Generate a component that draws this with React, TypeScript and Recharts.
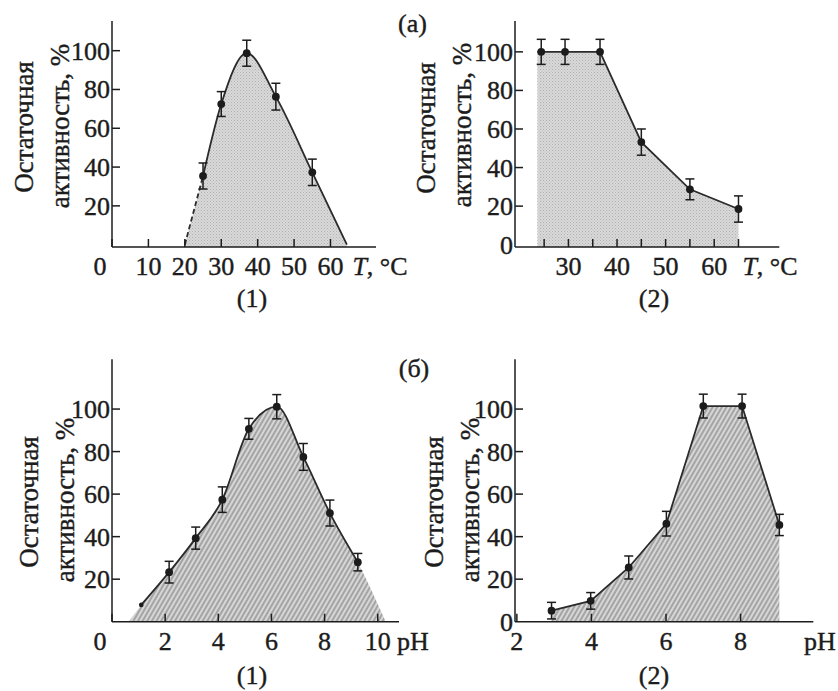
import React from 'react';
import { ComposedChart, Area, Line, Scatter, ErrorBar, XAxis, YAxis } from 'recharts';

const FONT = '"Liberation Serif", "Times New Roman", Tinos, "DejaVu Serif", serif';
const INK = '#1c1c1c';
const LINE = '#2b2b2b';
const TICK_FS = 26;
const TITLE_FS = 27;

// (а)(1) activity vs temperature
const tempA1 = [25, 30, 37, 45, 55];
const actA1 = [35.4, 72.5, 98.7, 76.3, 37.3];
const errA1 = [6.7, 6.4, 6.7, 6.9, 6.8];
const edgeA1 = [20, 64.5]; // where the curve meets the T axis

// (а)(2) residual activity after heating
const tempA2 = [24.4, 29.3, 36.5, 45, 55, 65];
const actA2 = [100, 100, 100, 53.2, 28.7, 18.5];
const errA2 = [6.5, 6.5, 6.5, 6.8, 5.4, 6.8];
const fillStartA2 = 23.6;

// (б)(1) activity vs pH
const phB1 = [2.15, 3.15, 4.15, 5.15, 6.2, 7.2, 8.2, 9.25];
const actB1 = [23.3, 39.3, 57.4, 90.7, 101.1, 77.5, 51.1, 28.0];
const errB1 = [5.1, 5.2, 6.0, 4.9, 5.7, 6.3, 6.1, 4.1];
const startB1 = [1.1, 7.9];
const edgeB1 = [0.63, 10.3];

// (б)(2) residual activity vs pH
const phB2 = [2.93, 3.98, 5.0, 6.01, 7.0, 8.04, 9.04];
const actB2 = [5.2, 9.8, 25.5, 46.1, 101.4, 101.4, 45.5];
const errB2 = [3.9, 3.9, 5.4, 5.8, 5.6, 5.6, 5.0];

const ticksT1 = [0, 10, 20, 30, 40, 50, 60];
const ticksT2 = [25, 30, 35, 40, 45, 50, 55, 60, 65];
const labelsT2 = [30, 40, 50, 60];
const ticksPh1 = [0, 2, 4, 6, 8, 10];
const ticksPh2 = [2, 4, 6, 8];
const ticksAct = [20, 40, 60, 80, 100];
const ticksAct0 = [0, 20, 40, 60, 80, 100];

type Pt = { x: number; y: number; e: number };
const zip = (xs: number[], ys: number[], es?: number[]): Pt[] =>
  xs.map((x, i) => ({ x, y: ys[i], e: es ? es[i] : 0 }));
const pt = (x: number, y: number): Pt => ({ x, y, e: 0 });

const YW = 80;
const XH = 40;

const dot = (s: any) => <circle cx={s.cx} cy={s.cy} r={3.9} fill={INK} />;
const smallDot = (s: any) => <circle cx={s.cx} cy={s.cy} r={2.3} fill={INK} />;

function stipple(id: string) {
  return (
    <pattern id={id} width={3} height={3} patternUnits="userSpaceOnUse">
      <rect width={3} height={3} fill="#d9d9d9" />
      <rect x={0} y={0} width={1} height={1} fill="#b0b0b0" />
      <rect x={1.5} y={1.5} width={1} height={1} fill="#bababa" />
    </pattern>
  );
}

function hatch(id: string) {
  return (
    <pattern id={id} width={4} height={4} patternUnits="userSpaceOnUse" patternTransform="rotate(30)">
      <rect width={4} height={4} fill="#d6d6d6" />
      <line x1={1} y1={0} x2={1} y2={4} stroke="#8f8f8f" strokeWidth={1.4} />
    </pattern>
  );
}

interface PanelProps {
  id: string;
  left: number;
  top: number;
  width: number;
  height: number;
  plot: { l: number; t: number; r: number; b: number };
  xDomain: [number, number];
  yDomain: [number, number];
  xTicks: number[];
  xLabels: number[];
  yTicks: number[];
  pattern: React.ReactNode;
  curve: 'linear' | 'monotone';
  area: Pt[];
  solid: Pt[];
  dashed?: Pt[];
  small?: Pt[];
  points: Pt[];
  yTitle: { b1: number; c1: number; b2: number; c2: number };
  xTitle: { node: React.ReactNode; cx: number; by: number };
  num: { text: string; cx: number; by: number };
  tag?: { text: string; cx: number; by: number };
}

// a hair of outline so the glyphs look as dark as the printed ones
const txtStyle = { fontFamily: FONT, stroke: INK, strokeWidth: 0.4 };
const axisStroke = { stroke: INK, strokeWidth: 1.5 };

function Panel(p: PanelProps) {
  const ox = p.left;
  const oy = p.top;
  const margin = {
    top: p.plot.t - p.top,
    left: p.plot.l - p.left - YW,
    right: p.left + p.width - p.plot.r,
    bottom: p.top + p.height - p.plot.b - XH,
  };

  const xTick = (t: any) => {
    const v = t.payload.value;
    if (!p.xLabels.includes(v)) return <g />;
    const x = v === 0 ? t.x - 12 : t.x;
    return (
      <text x={x} y={t.y} dy={17} textAnchor="middle" fontSize={TICK_FS} fill={INK} style={txtStyle}>
        {v}
      </text>
    );
  };
  // y tick marks drawn here so the one at 0 can be left out (it sits on the T axis)
  const yTick = (t: any) => {
    const v = t.payload.value;
    const ax = t.x + 2;
    return (
      <g>
        {v !== 0 && <line x1={ax} y1={t.y} x2={ax + 8} y2={t.y} {...axisStroke} />}
        <text x={t.x} y={t.y} dy={9} textAnchor="end" fontSize={TICK_FS} fill={INK} style={txtStyle}>
          {v}
        </text>
      </g>
    );
  };
  const yTitle = () => (
    <g fontSize={TITLE_FS} fill={INK}>
      <text
        textAnchor="middle"
        style={txtStyle}
        transform={`translate(${p.yTitle.b1 - ox},${p.yTitle.c1 - oy}) rotate(-90)`}
      >
        Остаточная
      </text>
      <text
        textAnchor="middle"
        style={txtStyle}
        transform={`translate(${p.yTitle.b2 - ox},${p.yTitle.c2 - oy}) rotate(-90)`}
      >
        активность, %
      </text>
    </g>
  );
  const xTitle = () => (
    <g fontSize={TICK_FS} fill={INK}>
      <text x={p.xTitle.cx - ox} y={p.xTitle.by - oy} textAnchor="middle" style={txtStyle}>
        {p.xTitle.node}
      </text>
      <text x={p.num.cx - ox} y={p.num.by - oy} textAnchor="middle" style={txtStyle}>
        {p.num.text}
      </text>
      {p.tag && (
        <text x={p.tag.cx - ox} y={p.tag.by - oy} textAnchor="middle" style={txtStyle}>
          {p.tag.text}
        </text>
      )}
    </g>
  );

  return (
    <div style={{ position: 'absolute', left: p.left, top: p.top, width: p.width, height: p.height }}>
      <ComposedChart width={p.width} height={p.height} margin={margin}>
        <defs>{p.pattern}</defs>
        <XAxis
          type="number"
          dataKey="x"
          domain={p.xDomain}
          allowDataOverflow
          ticks={p.xTicks}
          interval={0}
          tickSize={-8}
          tickMargin={19}
          tick={xTick}
          tickLine={axisStroke}
          axisLine={axisStroke}
          height={XH}
          label={xTitle}
        />
        <YAxis
          type="number"
          domain={p.yDomain}
          allowDataOverflow
          ticks={p.yTicks}
          interval={0}
          tickSize={-8}
          tickMargin={10}
          tick={yTick}
          tickLine={false}
          axisLine={axisStroke}
          width={YW}
          label={yTitle}
        />
        <Area
          data={p.area}
          dataKey="y"
          type={p.curve}
          fill={`url(#${p.id})`}
          fillOpacity={1}
          stroke="none"
          baseValue="dataMin"
          isAnimationActive={false}
        />
        {p.dashed && (
          <Line
            data={p.dashed}
            dataKey="y"
            type="linear"
            stroke={LINE}
            strokeWidth={1.8}
            strokeDasharray="5 3"
            dot={false}
            isAnimationActive={false}
          />
        )}
        <Line
          data={p.solid}
          dataKey="y"
          type={p.curve}
          stroke={LINE}
          strokeWidth={1.8}
          dot={false}
          isAnimationActive={false}
        />
        {p.small && <Scatter data={p.small} dataKey="y" shape={smallDot} isAnimationActive={false} />}
        <Scatter data={p.points} dataKey="y" shape={dot} isAnimationActive={false}>
          <ErrorBar dataKey="e" direction="y" width={4.5} stroke={INK} strokeWidth={1.5} isAnimationActive={false} />
        </Scatter>
      </ComposedChart>
    </div>
  );
}

export default function App() {
  const ptsA1 = zip(tempA1, actA1, errA1);
  const ptsA2 = zip(tempA2, actA2, errA2);
  const ptsB1 = zip(phB1, actB1, errB1);
  const ptsB2 = zip(phB2, actB2, errB2);

  const a1Start = pt(edgeA1[0], 0);
  const a1End = pt(edgeA1[1], 0);
  const b1Start = pt(startB1[0], startB1[1]);

  const Tlabel = (
    <>
      <tspan fontStyle="italic">T</tspan>, °C
    </>
  );

  return (
    <div
      style={{
        position: 'absolute',
        left: 0,
        top: 0,
        width: 838,
        height: 691,
        background: '#fff',
        overflow: 'hidden',
        fontFamily: FONT,
      }}
    >
      <Panel
        id="fillA1"
        left={0}
        top={0}
        width={440}
        height={320}
        plot={{ l: 112, t: 21, r: 376, b: 247 }}
        xDomain={[0, 72.5]}
        yDomain={[-1.2, 115.3]}
        xTicks={ticksT1}
        xLabels={ticksT1}
        yTicks={ticksAct}
        pattern={stipple('fillA1')}
        curve="monotone"
        area={[a1Start, ...ptsA1, a1End]}
        solid={[...ptsA1, a1End]}
        dashed={[a1Start, ptsA1[0]]}
        points={ptsA1}
        yTitle={{ b1: 33, c1: 127, b2: 69, c2: 126 }}
        xTitle={{ node: Tlabel, cx: 380, by: 275 }}
        num={{ text: '(1)', cx: 252, by: 307 }}
        tag={{ text: '(а)', cx: 412.5, by: 31.5 }}
      />
      <Panel
        id="fillA2"
        left={405}
        top={0}
        width={433}
        height={320}
        plot={{ l: 515, t: 21, r: 779.3, b: 247 }}
        xDomain={[19, 73.4]}
        yDomain={[-1.2, 116]}
        xTicks={ticksT2}
        xLabels={labelsT2}
        yTicks={ticksAct0}
        pattern={stipple('fillA2')}
        curve="linear"
        area={[pt(fillStartA2, actA2[0]), ...ptsA2]}
        solid={[pt(fillStartA2, actA2[0]), ...ptsA2]}
        points={ptsA2}
        yTitle={{ b1: 435, c1: 128, b2: 471, c2: 125 }}
        xTitle={{ node: Tlabel, cx: 770, by: 275 }}
        num={{ text: '(2)', cx: 654, by: 307 }}
      />
      <Panel
        id="fillB1"
        left={0}
        top={330}
        width={440}
        height={361}
        plot={{ l: 112, t: 359.3, r: 399, b: 621.7 }}
        xDomain={[0, 10.8]}
        yDomain={[0, 123.4]}
        xTicks={ticksPh1}
        xLabels={ticksPh1}
        yTicks={ticksAct}
        pattern={hatch('fillB1')}
        curve="monotone"
        area={[pt(edgeB1[0], 0), b1Start, ...ptsB1, pt(edgeB1[1], 0)]}
        solid={[b1Start, ...ptsB1]}
        small={[b1Start]}
        points={ptsB1}
        yTitle={{ b1: 38, c1: 502, b2: 74, c2: 500 }}
        xTitle={{ node: 'pH', cx: 413, by: 650 }}
        num={{ text: '(1)', cx: 252, by: 684 }}
        tag={{ text: '(б)', cx: 414, by: 377 }}
      />
      <Panel
        id="fillB2"
        left={405}
        top={330}
        width={433}
        height={361}
        plot={{ l: 515, t: 359.3, r: 813.3, b: 621.7 }}
        xDomain={[1.95, 9.95]}
        yDomain={[0, 123.4]}
        xTicks={ticksPh2}
        xLabels={ticksPh2}
        yTicks={ticksAct0}
        pattern={hatch('fillB2')}
        curve="linear"
        area={ptsB2}
        solid={ptsB2}
        points={ptsB2}
        yTitle={{ b1: 443, c1: 502, b2: 479, c2: 500 }}
        xTitle={{ node: 'pH', cx: 820, by: 650 }}
        num={{ text: '(2)', cx: 654, by: 684 }}
      />
    </div>
  );
}
